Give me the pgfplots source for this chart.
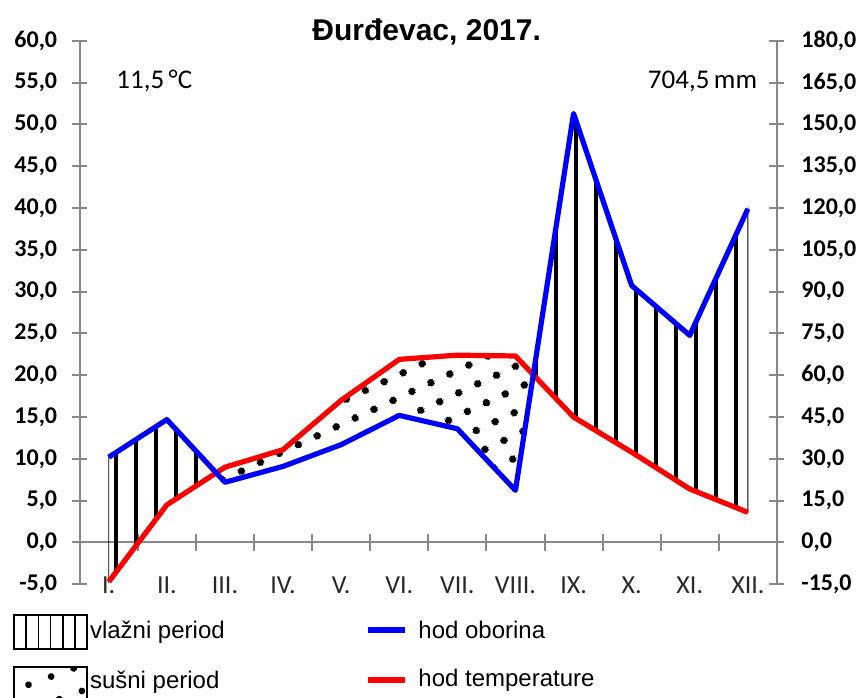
\documentclass[border=0pt]{standalone}
\usepackage{pgfplots}
\pgfplotsset{compat=1.18}
\usepackage{pgfplotstable}
\usepgfplotslibrary{fillbetween}
\usetikzlibrary{patterns.meta}
\usepackage{fontspec}
\setmainfont{Liberation Sans}
\newfontfamily\calibri{Carlito}
\definecolor{axgray}{RGB}{136,136,136}
\definecolor{lblgray}{RGB}{40,40,40}

\pgfplotstableread{
m T P
1 -4.7 30.6
2 4.5 44.1
3 9.0 21.6
4 11.1 27.3
5 17.0 35.1
6 21.9 45.6
7 22.4 40.8
8 22.3 18.7
9 15.0 153.9
10 10.8 92.2
11 6.4 74.3
12 3.6 119.7
}\climate

\begin{document}
\begin{tikzpicture}[x=1pt,y=1pt]
\begin{axis}[
  at={(39.85pt,-292.15pt)}, anchor=south west,
  scale only axis, width=348.6pt, height=271.8pt,
  xmin=0.5, xmax=12.5, ymin=-5, ymax=60,
  axis x line=middle, axis y line=left,
  axis line style={-, draw=axgray, line width=1pt},
  tick style={draw=axgray, line width=1pt},
  tick align=center,
  major tick length=7.5pt, minor tick length=8.5pt,
  xtick={1,...,12},
  xticklabels={I.,II.,III.,IV.,V.,VI.,VII.,VIII.,IX.,X.,XI.,XII.},
  major x tick style={draw=none},
  minor xtick={1.5,2.5,...,11.5},
  xticklabel style={anchor=center, yshift=-17.4pt, text=lblgray, font=\calibri\fontsize{13}{15}\selectfont},
  ytick={-5,0,...,60},
  yticklabel style={font=\calibri\bfseries\fontsize{12}{14}\selectfont, anchor=east, xshift=-4pt},
  /pgf/number format/assume math mode=true,
  /pgf/number format/.cd, fixed, fixed zerofill, precision=1, use comma,
  /pgfplots/.cd,
  clip=false,
]
\addplot[name path=T, draw=none, forget plot] table[x=m,y=T]{\climate};
\addplot[name path=P, draw=none, forget plot] table[x=m, y expr=\thisrow{P}/3]{\climate};
\addplot fill between[of=P and T, split,
  every segment no 0/.style={pattern={Lines[angle=90,distance=10pt,line width=1.8pt,xshift=8pt]}, draw=black, line width=0.4pt},
  every segment no 1/.style={pattern={Dots[radius=2pt,distance=10.5pt,angle=25]}},
  every segment no 2/.style={pattern={Lines[angle=90,distance=10pt,line width=1.8pt,xshift=8pt]}, draw=black, line width=0.4pt}];
\addplot[red, line width=2.6pt, line join=round] table[x=m,y=T]{\climate};
\addplot[blue, line width=2.6pt, line join=round] table[x=m, y expr=\thisrow{P}/3]{\climate};
\node[anchor=base west, font=\calibri\fontsize{13.5}{16}\selectfont] at (axis cs:1.01,54.3) {11,5\,°C};
\node[anchor=base east, font=\calibri\fontsize{13.5}{16}\selectfont] at (axis cs:12.28,54.3) {704,5\,mm};
\end{axis}
\begin{axis}[
  at={(39.85pt,-292.15pt)}, anchor=south west,
  scale only axis, width=348.6pt, height=271.8pt,
  xmin=0.5, xmax=12.5, ymin=-15, ymax=180,
  axis x line=none, axis y line=right,
  axis line style={-, draw=axgray, line width=1pt},
  tick style={draw=axgray, line width=1pt},
  tick align=center,
  major tick length=7.5pt,
  ytick={-15,0,...,180},
  yticklabel style={font=\calibri\bfseries\fontsize{12}{14}\selectfont, anchor=west, xshift=5pt},
  /pgf/number format/assume math mode=true,
  /pgf/number format/.cd, fixed, fixed zerofill, precision=1, use comma,
  /pgfplots/.cd,
]
\addplot[draw=none] coordinates {(1,0)};
\end{axis}
\node[anchor=base, font=\bfseries\fontsize{15}{18}\selectfont] at (213.35,-20) {Đurđevac, 2017.};
% legend
\draw[line width=1pt] (7,-307.5) rectangle (43.6,-324.6);
\foreach \i in {1,...,5} {\draw[line width=0.8pt] (7+6.1*\i,-307.5) -- (7+6.1*\i,-324.6);}
\node[anchor=west, inner sep=0pt, font=\fontsize{12}{14}\selectfont] at (44.8,-316) {vlažni period};
\draw[line width=1pt, pattern={Dots[radius=1.7pt,distance=12pt,angle=20,xshift=3pt,yshift=2pt]}] (7,-333.3) rectangle (43.6,-352);
\node[anchor=west, inner sep=0pt, font=\fontsize{12}{14}\selectfont] at (44.8,-341) {sušni period};
\draw[blue, line width=3pt] (184,-315) -- (202.5,-315);
\node[anchor=west, inner sep=0pt, font=\fontsize{12}{14}\selectfont] at (209,-315) {hod oborina};
\draw[red, line width=3pt] (184,-340) -- (202.5,-340);
\node[anchor=west, inner sep=0pt, font=\fontsize{12}{14}\selectfont] at (209,-340) {hod temperature};
\pgfresetboundingbox
\path[use as bounding box] (0,0) rectangle (430.5,-348.5);
\end{tikzpicture}
\end{document}
